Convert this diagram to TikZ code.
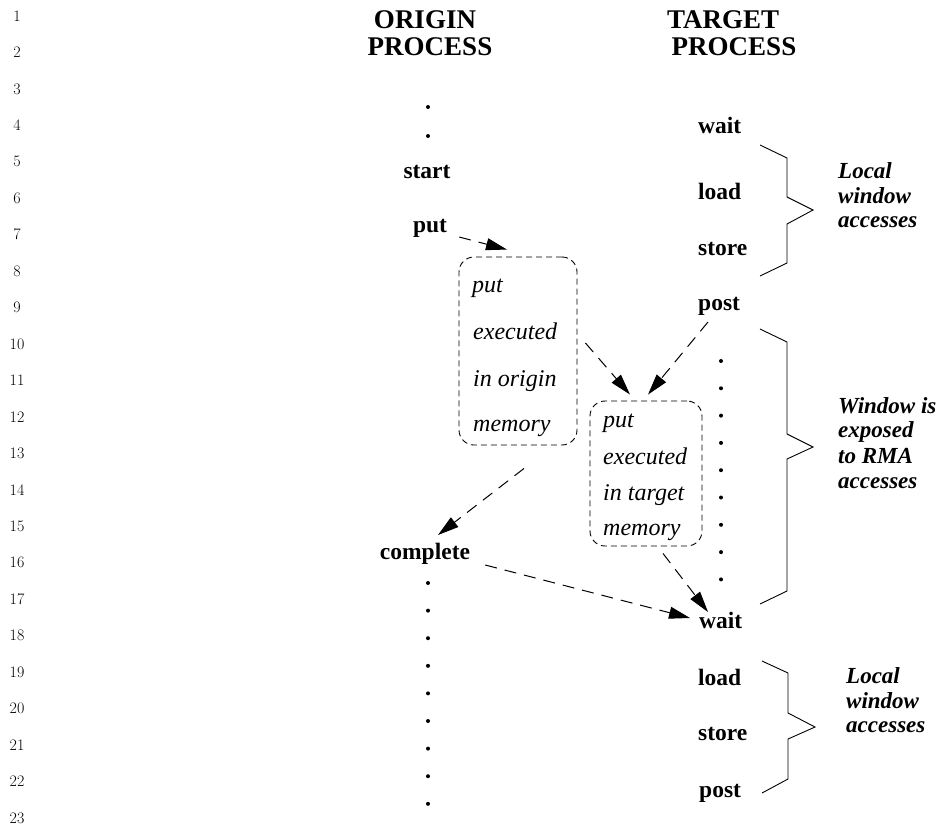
\documentclass[tikz,border=0pt]{standalone}
\usepackage{fontspec}
\setmainfont{Liberation Serif}
\usetikzlibrary{arrows.meta,calc}
\tikzset{
  lnum/.style={font=\fontfamily{lmr}\fontsize{16}{19}\selectfont, inner sep=0},
  ttl/.style={font=\bfseries\fontsize{27}{30}\selectfont, inner sep=0, anchor=base},
  op/.style={font=\bfseries\fontsize{23.5}{28}\selectfont, inner sep=0},
  itx/.style={font=\itshape\fontsize{24}{28}\selectfont, inner sep=0, anchor=base west},
  lbl/.style={font=\bfseries\itshape\fontsize{23}{25}\selectfont, inner sep=0, anchor=base west},
  dbox/.style={draw, dash pattern=on 6pt off 4pt, rounded corners=15pt, line width=0.9pt, inner sep=0},
  flow/.style={dash pattern=on 12pt off 8pt, line width=1pt, -{Triangle[length=21pt,width=12pt]}},
  bracepath/.style={line width=0.9pt, line join=miter},
  dotm/.style={circle, fill, inner sep=0, minimum size=4pt}
}
\begin{document}
\begin{tikzpicture}[x=1pt,y=-1pt]
\fill[white] (0,0) rectangle (941,825);
\useasboundingbox (0,0) rectangle (941,825);

% line numbers
\foreach \n in {1,...,23}
  \node[lnum] (ln\n) at (17,{16+(\n-1)*36.45}) {\n};

% titles
\node[ttl] (ot1) at (425,28) {ORIGIN};
\node[ttl] (ot2) at (430,55) {PROCESS};
\node[ttl] (tt1) at (723,28) {TARGET};
\node[ttl] (tt2) at (734,55) {PROCESS};

% origin column
\node[dotm] (odt1) at (428,107) {};
\node[dotm] (odt2) at (428,136) {};
\node[op, anchor=base] (start) at (427,178) {start};
\node[op, anchor=base] (put) at (430,232) {put};
\node[op, anchor=base] (complete) at (425,559) {complete};
\foreach \k in {0,...,8}
  \node[dotm] (odb\k) at (428,{583+\k*27.6}) {};

% target column
\node[op, anchor=base west] (wait1) at (698,133) {wait};
\node[op, anchor=base west] (load1) at (698,199) {load};
\node[op, anchor=base west] (store1) at (698,255) {store};
\node[op, anchor=base west] (post1) at (698,310) {post};
\foreach \k in {0,...,8}
  \node[dotm] (td\k) at (721,{361+\k*27.3}) {};
\node[op, anchor=base west] (wait2) at (699,628) {wait};
\node[op, anchor=base west] (load2) at (698,685) {load};
\node[op, anchor=base west] (store2) at (698,740) {store};
\node[op, anchor=base west] (post2) at (699,797) {post};

% boxes
\node[dbox, minimum width=118pt, minimum height=188pt] (box1) at (518,351) {};
\node[itx] (b1a) at (472,292) {put};
\node[itx] (b1b) at (473,339) {executed};
\node[itx] (b1c) at (473,386) {in origin};
\node[itx] (b1d) at (473,431) {memory};

\node[dbox, minimum width=112pt, minimum height=145pt] (box2) at (646,473.5) {};
\node[itx] (b2a) at (603,427) {put};
\node[itx] (b2b) at (603,464) {executed};
\node[itx] (b2c) at (603,500) {in target};
\node[itx] (b2d) at (603,535) {memory};

% arrows
\draw[flow] ($(put.base east)+(12,5)$) -- ($(box1.north)+(-11,-7)$);
\draw[flow] ($(box1.east)+(8,-8)$) -- ($(box2.north)+(-16,-6)$);
\draw[flow] ($(post1.base west)+(10,12)$) -- ($(box2.north)+(2,-6)$);
\draw[flow] ($(box1.south)+(6,23)$) -- ($(complete.base)+(13,-24)$);
\draw[flow] ($(complete.base east)+(15,6)$) -- ($(wait2.base west)+(-9,-10)$);
\draw[flow] ($(box2.south)+(17,7)$) -- ($(wait2.base west)+(9,-16)$);

% braces
\draw[bracepath] (760,145) -- (787,158) -- (787,197) -- (813,210) -- (787,224) -- (787,263) -- (760,276);
\draw[bracepath] (760,329) -- (787,342) -- (787,434) -- (813,447) -- (787,459) -- (787,591) -- (760,604);
\draw[bracepath] (762,661) -- (788,673) -- (788,713) -- (815,727) -- (788,739) -- (788,779) -- (762,793);

% labels
\node[lbl] (l1a) at (838,178) {Local};
\node[lbl] (l1b) at (838,203) {window};
\node[lbl] (l1c) at (838,227) {accesses};
\node[lbl] (l2a) at (838,413) {Window is};
\node[lbl] (l2b) at (838,437) {exposed};
\node[lbl] (l2c) at (838,463) {to RMA};
\node[lbl] (l2d) at (838,488) {accesses};
\node[lbl] (l3a) at (846,683) {Local};
\node[lbl] (l3b) at (846,708) {window};
\node[lbl] (l3c) at (846,732) {accesses};
\end{tikzpicture}
\end{document}
